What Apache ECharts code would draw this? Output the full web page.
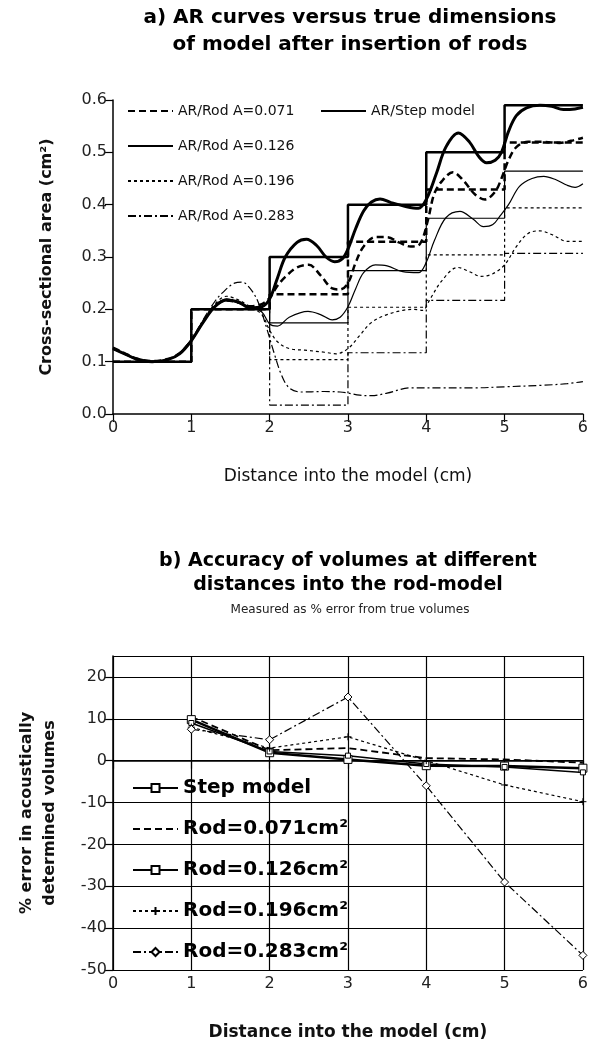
<!DOCTYPE html>
<html lang="en">
<head>
<meta charset="UTF-8">
<title>AR curves and volume accuracy</title>
<script src="https://cdn.jsdelivr.net/npm/echarts@6/dist/echarts.min.js"></script>
<style>
  html, body { margin: 0; padding: 0; background: #fff; }
  #chart { width: 591px; height: 1044px; }
</style>
</head>
<body>
<div id="chart"></div>
<script>
// ---- panel a: step models (true dimensions), value per 1 cm segment ----
const stepX = [0, 1, 2, 3, 4, 5, 6];
const stepTrue = [0.1, 0.2, 0.3, 0.4, 0.5, 0.59, 0.59];
const stepRod071 = [0.1, 0.2, 0.229, 0.329, 0.429, 0.519, 0.519];
const stepRod126 = [0.1, 0.2, 0.174, 0.274, 0.374, 0.464, 0.464];
const stepRod196 = [0.1, 0.2, 0.104, 0.204, 0.304, 0.394, 0.394];
const stepRod283 = [0.1, 0.2, 0.017, 0.117, 0.217, 0.307, 0.307];

// ---- panel a: measured AR curves [distance, area] ----
const arStep = [[0,0.125],[0.15,0.115],[0.3,0.105],[0.5,0.1],[0.7,0.104],[0.85,0.115],[1.0,0.14],[1.15,0.175],[1.3,0.205],[1.45,0.218],[1.6,0.214],[1.75,0.203],[1.9,0.205],[2.0,0.22],[2.1,0.26],[2.2,0.3],[2.35,0.328],[2.47,0.334],[2.6,0.322],[2.72,0.3],[2.83,0.291],[2.93,0.297],[3.0,0.315],[3.1,0.355],[3.2,0.388],[3.3,0.405],[3.41,0.411],[3.55,0.404],[3.75,0.396],[3.9,0.393],[4.0,0.41],[4.13,0.46],[4.25,0.51],[4.41,0.537],[4.55,0.52],[4.68,0.49],[4.77,0.48],[4.88,0.485],[4.96,0.5],[5.05,0.54],[5.15,0.57],[5.28,0.585],[5.45,0.59],[5.6,0.588],[5.75,0.582],[5.9,0.583],[6.0,0.586]];
const arRod071 = [[0,0.127],[0.15,0.116],[0.3,0.106],[0.5,0.101],[0.7,0.105],[0.85,0.116],[1.0,0.141],[1.15,0.176],[1.3,0.206],[1.45,0.217],[1.6,0.213],[1.75,0.206],[1.9,0.21],[2.0,0.222],[2.1,0.245],[2.2,0.262],[2.35,0.28],[2.5,0.285],[2.65,0.265],[2.8,0.24],[2.9,0.238],[3.0,0.25],[3.1,0.29],[3.2,0.32],[3.35,0.338],[3.5,0.338],[3.65,0.328],[3.8,0.32],[3.92,0.325],[4.02,0.37],[4.1,0.42],[4.2,0.445],[4.34,0.462],[4.48,0.445],[4.62,0.42],[4.75,0.41],[4.88,0.425],[4.96,0.45],[5.05,0.485],[5.15,0.51],[5.3,0.52],[5.5,0.52],[5.7,0.518],[5.85,0.522],[6.0,0.528]];
const arRod126 = [[0,0.124],[0.15,0.114],[0.3,0.104],[0.5,0.1],[0.7,0.104],[0.85,0.116],[1.0,0.14],[1.15,0.176],[1.3,0.207],[1.45,0.22],[1.6,0.212],[1.75,0.205],[1.9,0.195],[2.0,0.172],[2.1,0.168],[2.25,0.185],[2.49,0.196],[2.65,0.19],[2.8,0.18],[2.9,0.185],[3.0,0.205],[3.1,0.24],[3.2,0.27],[3.35,0.285],[3.5,0.283],[3.7,0.272],[3.9,0.27],[4.0,0.29],[4.1,0.33],[4.25,0.375],[4.43,0.387],[4.6,0.372],[4.73,0.358],[4.85,0.362],[4.95,0.38],[5.05,0.4],[5.19,0.435],[5.35,0.45],[5.5,0.454],[5.65,0.448],[5.8,0.437],[5.9,0.433],[6.0,0.44]];
const arRod196 = [[0,0.126],[0.15,0.115],[0.3,0.105],[0.5,0.101],[0.7,0.105],[0.85,0.117],[1.0,0.142],[1.15,0.178],[1.3,0.21],[1.45,0.225],[1.6,0.218],[1.75,0.205],[1.9,0.19],[2.0,0.16],[2.1,0.138],[2.25,0.125],[2.45,0.122],[2.7,0.118],[2.85,0.115],[3.0,0.125],[3.15,0.15],[3.3,0.175],[3.5,0.19],[3.7,0.198],[3.85,0.2],[3.95,0.198],[4.05,0.22],[4.2,0.255],[4.4,0.28],[4.55,0.272],[4.7,0.263],[4.85,0.268],[5.0,0.285],[5.15,0.32],[5.3,0.345],[5.45,0.35],[5.6,0.343],[5.8,0.33],[6.0,0.33]];
const arRod283 = [[0,0.125],[0.15,0.115],[0.3,0.105],[0.5,0.1],[0.7,0.104],[0.85,0.116],[1.0,0.142],[1.15,0.18],[1.3,0.215],[1.4,0.232],[1.55,0.25],[1.65,0.252],[1.75,0.24],[1.85,0.215],[1.95,0.17],[2.05,0.12],[2.15,0.075],[2.25,0.05],[2.4,0.042],[2.7,0.043],[2.9,0.042],[3.0,0.04],[3.15,0.036],[3.3,0.035],[3.5,0.04],[3.8,0.05],[4.2,0.05],[4.6,0.05],[5.0,0.052],[5.5,0.055],[5.8,0.058],[6.0,0.062]];

// ---- panel b: % error in acoustically determined volumes ----
const distX = [1, 2, 3, 4, 5, 6];
const errStep = [9.8, 1.9, 0.3, -1.2, -1.3, -1.8];
const err071 = [10.5, 2.5, 3.0, 0.6, 0.3, -0.5];
const err126 = [9.0, 2.2, 1.2, -0.8, -1.5, -2.8];
const err196 = [8.0, 3.0, 5.7, 0.0, -5.8, -9.8];
const err283 = [7.5, 5.0, 15.2, -6.0, -29.0, -46.5];

const FONT = 'DejaVu Sans';
const pair = (xs, ys) => xs.map((x, i) => [x, ys[i]]);

const namesA = ['AR/Rod A=0.071', 'AR/Rod A=0.126', 'AR/Rod A=0.196', 'AR/Rod A=0.283'];
const namesB = ['Step model', 'Rod=0.071cm²', 'Rod=0.126cm²', 'Rod=0.196cm²', 'Rod=0.283cm²'];

const styleRod = [
  { width: 2.5, type: [7, 4] },
  { width: 1.2, type: 'solid' },
  { width: 1.2, type: [3, 3] },
  { width: 1.2, type: [8, 3, 2, 3] }
];

function curve(name, data, ls) {
  return { name, type: 'line', xAxisIndex: 0, yAxisIndex: 0, data, smooth: 0.35,
    symbol: 'none', itemStyle: { color: '#000' },
    lineStyle: Object.assign({ color: '#000' }, ls), z: 3 };
}
function steps(name, ys, ls) {
  return { name, type: 'line', xAxisIndex: 0, yAxisIndex: 0, data: pair(stepX, ys), step: 'end',
    symbol: 'none', itemStyle: { color: '#000' },
    lineStyle: Object.assign({ color: '#000' }, ls), z: 2 };
}
function errLine(name, ys, ls, symbol, size) {
  return { name, type: 'line', xAxisIndex: 1, yAxisIndex: 1, data: pair(distX, ys),
    symbol, symbolSize: size, showSymbol: symbol !== 'none',
    itemStyle: { color: '#fff', borderColor: '#000', borderWidth: 1 },
    lineStyle: Object.assign({ color: '#000' }, ls), z: 3 };
}

const axisCommon = {
  axisLine: { lineStyle: { color: '#000', width: 1.5 } },
  axisTick: { show: true, length: 8, inside: false, lineStyle: { color: '#000', width: 1.2 } },
  axisLabel: { color: '#222', fontFamily: FONT, fontSize: 16, margin: 6 }
};

const hidden = { opacity: 0 };

const chart = echarts.init(document.getElementById('chart'), null, { renderer: 'canvas' });
chart.setOption({
  backgroundColor: '#fff',
  animation: false,
  textStyle: { fontFamily: FONT },
  graphic: [
    { type: 'text', style: { x: 350, y: 8, text: 'a) AR curves versus true dimensions', textAlign: 'center', fontFamily: FONT, fontWeight: 'bold', fontSize: 20, fill: '#000' } },
    { type: 'text', style: { x: 350, y: 35, text: 'of model after insertion of rods', textAlign: 'center', fontFamily: FONT, fontWeight: 'bold', fontSize: 20, fill: '#000' } },
    { type: 'text', style: { x: 348, y: 552, text: 'b) Accuracy of volumes at different', textAlign: 'center', fontFamily: FONT, fontWeight: 'bold', fontSize: 19, fill: '#000' } },
    { type: 'text', style: { x: 348, y: 576, text: 'distances into the rod-model', textAlign: 'center', fontFamily: FONT, fontWeight: 'bold', fontSize: 19, fill: '#000' } },
    { type: 'text', style: { x: 350, y: 604, text: 'Measured as % error from true volumes', textAlign: 'center', fontFamily: FONT, fontSize: 12, fill: '#222' } }
  ],
  legend: [
    { data: namesA.map(n => ({ name: n, itemStyle: hidden })), orient: 'vertical', left: 127, top: 104, padding: 0,
      itemGap: 21, itemWidth: 45, itemHeight: 14,
      textStyle: { fontFamily: FONT, fontSize: 14, color: '#111' }, selectedMode: false },
    { data: [{ name: 'AR/Step model', itemStyle: hidden }], left: 320, top: 104, padding: 0, itemWidth: 45, itemHeight: 14,
      textStyle: { fontFamily: FONT, fontSize: 14, color: '#111' }, selectedMode: false },
    { data: namesB.map((n, i) => i === 1 ? { name: n, itemStyle: hidden } : n), orient: 'vertical', left: 132, top: 777, padding: 0,
      itemGap: 19, itemWidth: 45, itemHeight: 10,
      textStyle: { fontFamily: FONT, fontSize: 20, fontWeight: 'bold', color: '#000', lineHeight: 22 }, selectedMode: false }
  ],
  grid: [
    { left: 113, top: 100, width: 470, height: 314, containLabel: false },
    { left: 113, top: 656, width: 470, height: 314, containLabel: false }
  ],
  xAxis: [
    Object.assign({}, axisCommon, {
      gridIndex: 0, type: 'value', min: 0, max: 6, interval: 1, splitLine: { show: false },
      name: 'Distance into the model (cm)', nameLocation: 'middle', nameGap: 54,
      nameTextStyle: { fontFamily: FONT, fontSize: 17, color: '#111' }
    }),
    Object.assign({}, axisCommon, {
      gridIndex: 1, type: 'value', min: 0, max: 6, interval: 1,
      splitLine: { show: true, lineStyle: { color: '#000', width: 1.2 } },
      name: 'Distance into the model (cm)', nameLocation: 'middle', nameGap: 54,
      nameTextStyle: { fontFamily: FONT, fontSize: 17, fontWeight: 'bold', color: '#111' }
    })
  ],
  yAxis: [
    Object.assign({}, axisCommon, {
      gridIndex: 0, type: 'value', min: 0, max: 0.6, interval: 0.1, splitLine: { show: false },
      axisLabel: Object.assign({}, axisCommon.axisLabel, { formatter: v => v.toFixed(1) }),
      name: 'Cross-sectional area (cm²)', nameLocation: 'middle', nameGap: 58,
      nameTextStyle: { fontFamily: FONT, fontSize: 16, fontWeight: 'bold', color: '#111' }
    }),
    Object.assign({}, axisCommon, {
      gridIndex: 1, type: 'value', min: -50, max: 25, interval: 10,
      axisLabel: Object.assign({}, axisCommon.axisLabel, { showMaxLabel: false }),
      splitLine: { show: true, lineStyle: { color: '#000', width: 1.2 } },
      name: '% error in acoustically\ndetermined volumes', nameLocation: 'middle', nameGap: 52,
      nameTextStyle: { fontFamily: FONT, fontSize: 16, fontWeight: 'bold', color: '#111', lineHeight: 23 }
    })
  ],
  series: [
    curve(namesA[0], arRod071, styleRod[0]),
    curve(namesA[1], arRod126, styleRod[1]),
    curve(namesA[2], arRod196, styleRod[2]),
    curve(namesA[3], arRod283, styleRod[3]),
    curve('AR/Step model', arStep, { width: 3, type: 'solid' }),
    steps(namesA[0], stepRod071, styleRod[0]),
    steps(namesA[1], stepRod126, styleRod[1]),
    steps(namesA[2], stepRod196, styleRod[2]),
    steps(namesA[3], stepRod283, styleRod[3]),
    steps('AR/Step model', stepTrue, { width: 2.5, type: 'solid' }),

    errLine(namesB[0], errStep, { width: 2.5, type: 'solid' }, 'rect', 8),
    errLine(namesB[1], err071, { width: 1.8, type: [7, 4] }, 'none', 0),
    errLine(namesB[2], err126, { width: 1.5, type: 'solid' }, 'rect', 5),
    errLine(namesB[3], err196, { width: 1.2, type: [3, 3] }, 'path://M0,5L10,5M5,0L5,10', 7),
    errLine(namesB[4], err283, { width: 1.2, type: [8, 3, 2, 3] }, 'diamond', 8)
  ]
});
</script>
</body>
</html>
